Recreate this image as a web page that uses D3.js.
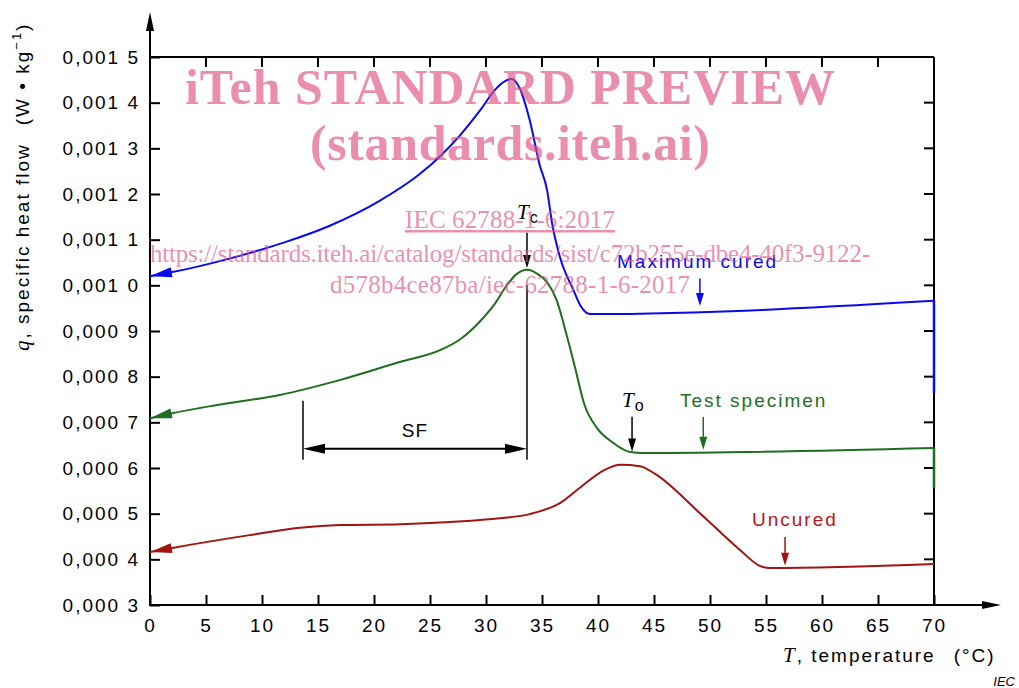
<!DOCTYPE html>
<html>
<head>
<meta charset="utf-8">
<script src="https://cdn.jsdelivr.net/npm/d3@7"></script>
<style>
body { margin: 0; background: #fff; }
</style>
</head>
<body>
<svg id="chart" width="1019" height="688" font-family="Arial, 'Liberation Sans', sans-serif"></svg>
<script>
// curves: T in °C, q in W/kg
const maxCuredT = [0, 2, 7, 12, 16, 20.5, 24, 26, 27.7, 29.5, 30.8, 31.7, 32.3, 33, 33.9, 34.8, 35.45, 35.9, 36.6, 37.8, 38.4, 39.3, 70];
const maxCuredQ = [10.20e-4, 10.29e-4, 10.58e-4, 10.94e-4, 11.30e-4, 11.85e-4, 12.42e-4, 12.85e-4, 13.29e-4, 13.84e-4, 14.28e-4, 14.47e-4, 14.52e-4, 14.32e-4, 13.62e-4, 12.63e-4, 12.09e-4, 11.36e-4, 10.62e-4, 9.90e-4, 9.57e-4, 9.37e-4, 9.66e-4];
const maxCuredDrop = [9.66e-4, 7.64e-4];

const specimenT = [0, 2, 6, 11.6, 17, 22.3, 25.9, 27.7, 29.5, 30.8, 31.8, 32.7, 33.7, 34.6, 35.45, 36.3, 37.2, 37.9, 38.8, 39.9, 41.25, 42.9, 44, 70];
const specimenQ = [7.09e-4, 7.20e-4, 7.38e-4, 7.60e-4, 7.93e-4, 8.32e-4, 8.58e-4, 8.82e-4, 9.22e-4, 9.60e-4, 9.98e-4, 10.24e-4, 10.34e-4, 10.25e-4, 10.07e-4, 9.68e-4, 8.91e-4, 8.25e-4, 7.38e-4, 6.88e-4, 6.57e-4, 6.35e-4, 6.33e-4, 6.44e-4];
const specimenDrop = [6.44e-4, 5.56e-4];

const uncuredT = [0, 2, 8.9, 13.4, 17, 22.3, 26.8, 31.25, 33.9, 36.6, 38.8, 40.6, 42, 43.75, 45.1, 49.1, 52.7, 54.5, 55.4, 70];
const uncuredQ = [4.16e-4, 4.25e-4, 4.53e-4, 4.69e-4, 4.75e-4, 4.77e-4, 4.82e-4, 4.90e-4, 4.99e-4, 5.23e-4, 5.65e-4, 5.96e-4, 6.07e-4, 6.04e-4, 5.87e-4, 5.01e-4, 4.20e-4, 3.85e-4, 3.81e-4, 3.90e-4];

const xTicks = [0, 5, 10, 15, 20, 25, 30, 35, 40, 45, 50, 55, 60, 65, 70];
const yTicks = [3e-4, 4e-4, 5e-4, 6e-4, 7e-4, 8e-4, 9e-4, 10e-4, 11e-4, 12e-4, 13e-4, 14e-4, 15e-4];

// annotation arrows: [T, q tail, q tip]
const tcArrow = [33.66, 11.15e-4, 10.38e-4];
const toArrow = [43.04, 7.12e-4, 6.36e-4];
const specimenArrow = [49.4, 7.12e-4, 6.40e-4];
const maxCuredArrow = [49.1, 10.15e-4, 9.55e-4];
const uncuredArrow = [56.7, 4.49e-4, 3.86e-4];
const tcLine = [10.01e-4, 6.18e-4];
const sfT = [13.66, 33.66];
const sfQ = 6.42e-4;
const sfTop = 7.47e-4;

const blue = "#0a0af0", green = "#1f6e1f", red = "#a01414";

const svg = d3.select("#chart");
const x = d3.scaleLinear().domain([0, 70]).range([150, 934]);
const y = d3.scaleLinear().domain([3e-4, 15e-4]).range([605, 57]);

const fmt = v => d3.format(".4f")(v).replace(".", ",").replace(/(\d)$/, " $1");

// frame: top and right with inward ticks
svg.append("line").attr("x1", x(0)).attr("x2", x(70)).attr("y1", y(15e-4)).attr("y2", y(15e-4))
    .attr("stroke", "#000").attr("stroke-width", 2);
svg.append("line").attr("x1", x(70)).attr("x2", x(70)).attr("y1", y(15e-4)).attr("y2", y(3e-4))
    .attr("stroke", "#000").attr("stroke-width", 2);
svg.selectAll(".ttick").data(xTicks).enter().append("line")
    .attr("x1", d => x(d)).attr("x2", d => x(d)).attr("y1", y(15e-4)).attr("y2", y(15e-4) + 10)
    .attr("stroke", "#000").attr("stroke-width", 2);
svg.selectAll(".rtick").data(yTicks).enter().append("line")
    .attr("x1", x(70) - 10).attr("x2", x(70)).attr("y1", d => y(d)).attr("y2", d => y(d))
    .attr("stroke", "#000").attr("stroke-width", 2);

// axes
const xAxis = svg.append("g")
    .attr("transform", "translate(0," + y(3e-4) + ")")
    .call(d3.axisBottom(x).tickValues(xTicks).tickSizeInner(-10).tickSizeOuter(0).tickPadding(14));
const yAxis = svg.append("g")
    .attr("transform", "translate(" + x(0) + ",0)")
    .call(d3.axisLeft(y).tickValues(yTicks).tickFormat(fmt).tickSizeInner(-10).tickSizeOuter(0).tickPadding(10));
[xAxis, yAxis].forEach(g => {
    g.select(".domain").remove();
    g.selectAll("line").attr("stroke-width", 2);
    g.attr("font-size", 19).attr("font-family", null);
    g.selectAll("text").attr("letter-spacing", 2).attr("fill", "#000");
});

// axis lines with arrows
svg.append("line").attr("x1", x(0)).attr("x2", x(0)).attr("y1", y(3e-4) + 1).attr("y2", 28)
    .attr("stroke", "#000").attr("stroke-width", 2);
svg.append("line").attr("x1", x(0) - 1).attr("x2", 985).attr("y1", y(3e-4)).attr("y2", y(3e-4))
    .attr("stroke", "#000").attr("stroke-width", 2);
svg.append("path").attr("d", `M${x(0)},12 L${x(0) - 4},31 L${x(0) + 4},31 Z`).attr("fill", "#000");
svg.append("path").attr("d", `M1001,${y(3e-4)} L982,${y(3e-4) - 4} L982,${y(3e-4) + 4} Z`).attr("fill", "#000");

// curves
const line = d3.line().x(d => x(d[0])).y(d => y(d[1])).curve(d3.curveMonotoneX);
const series = [
    {T: maxCuredT, Q: maxCuredQ, drop: maxCuredDrop, color: blue},
    {T: specimenT, Q: specimenQ, drop: specimenDrop, color: green},
    {T: uncuredT, Q: uncuredQ, drop: null, color: red}
];

function headPath(tx, ty, fx, fy, len, half) {
    const dx = fx - tx, dy = fy - ty, l = Math.hypot(dx, dy);
    const ux = dx / l, uy = dy / l;
    const bx = tx + ux * len, by = ty + uy * len;
    return `M${tx},${ty} L${bx - uy * half},${by + ux * half} L${bx + uy * half},${by - ux * half} Z`;
}

series.forEach(s => {
    const pts = s.T.map((t, i) => [t, s.Q[i]]);
    svg.append("path").attr("d", line(pts)).attr("fill", "none")
        .attr("stroke", s.color).attr("stroke-width", 2);
    if (s.drop) {
        svg.append("line").attr("x1", x(70)).attr("x2", x(70))
            .attr("y1", y(s.drop[0])).attr("y2", y(s.drop[1]))
            .attr("stroke", s.color).attr("stroke-width", 2.5);
    }
    svg.append("path")
        .attr("d", headPath(x(s.T[0]), y(s.Q[0]), x(s.T[1]), y(s.Q[1]), 22, 5))
        .attr("fill", s.color);
});

// down arrows
function downArrow(a, color) {
    const xx = x(a[0]), y1 = y(a[1]), y2 = y(a[2]);
    svg.append("line").attr("x1", xx).attr("x2", xx).attr("y1", y1).attr("y2", y2 - 8)
        .attr("stroke", color).attr("stroke-width", 1.5);
    svg.append("path").attr("d", headPath(xx, y2, xx, y1, 13, 4)).attr("fill", color);
}
downArrow(tcArrow, "#000");
downArrow(toArrow, "#000");
downArrow(specimenArrow, green);
downArrow(maxCuredArrow, blue);
downArrow(uncuredArrow, red);

// SF bracket
svg.append("line").attr("x1", x(sfT[0])).attr("x2", x(sfT[0])).attr("y1", y(sfTop)).attr("y2", y(tcLine[1]))
    .attr("stroke", "#000").attr("stroke-width", 1.5);
svg.append("line").attr("x1", x(sfT[1])).attr("x2", x(sfT[1])).attr("y1", y(tcLine[0])).attr("y2", y(tcLine[1]))
    .attr("stroke", "#000").attr("stroke-width", 1.5);
svg.append("line").attr("x1", x(sfT[0]) + 15).attr("x2", x(sfT[1]) - 15).attr("y1", y(sfQ)).attr("y2", y(sfQ))
    .attr("stroke", "#000").attr("stroke-width", 2);
svg.append("path").attr("d", headPath(x(sfT[0]), y(sfQ), x(sfT[1]), y(sfQ), 22, 5)).attr("fill", "#000");
svg.append("path").attr("d", headPath(x(sfT[1]), y(sfQ), x(sfT[0]), y(sfQ), 22, 5)).attr("fill", "#000");
svg.append("text").attr("x", (x(sfT[0]) + x(sfT[1])) / 2).attr("y", y(sfQ) - 12)
    .attr("text-anchor", "middle").attr("font-size", 19).attr("letter-spacing", 1).text("SF");

// labels
function label(txt, xx, yy, color) {
    svg.append("text").attr("x", xx).attr("y", yy).attr("font-size", 19)
        .attr("letter-spacing", 2).attr("fill", color).text(txt);
}
label("Maximum cured", 617, 268, blue);
label("Test specimen", 680, 407, green);
label("Uncured", 752, 526, "#b8141c");

function symbol(sub, xx, yy) {
    const t = svg.append("text").attr("x", xx).attr("y", yy);
    t.append("tspan").attr("font-family", "'Liberation Serif', 'Times New Roman', serif")
        .attr("font-style", "italic").attr("font-size", 21).text("T");
    t.append("tspan").attr("font-size", 16).attr("dx", 1).attr("dy", 4).text(sub);
}
symbol("c", 517, 219);
symbol("o", 622, 407);

// axis titles
const yt = svg.append("text").attr("transform", "translate(29,351) rotate(-90)")
    .attr("font-size", 19).attr("letter-spacing", 2);
yt.append("tspan").attr("font-family", "'Liberation Serif', serif").attr("font-style", "italic")
    .attr("font-size", 21).text("q");
yt.append("tspan").text(", specific heat flow");
yt.append("tspan").attr("dx", 18).text("(W • kg");
yt.append("tspan").attr("font-size", 13).attr("dy", -8).text("−1");
yt.append("tspan").attr("dy", 8).text(")");

const xt = svg.append("text").attr("x", 783).attr("y", 662).attr("font-size", 19).attr("letter-spacing", 2);
xt.append("tspan").attr("font-family", "'Liberation Serif', serif").attr("font-style", "italic")
    .attr("font-size", 21).text("T");
xt.append("tspan").text(", temperature");
xt.append("tspan").attr("dx", 18).text("(°C)");

svg.append("text").attr("x", 1015).attr("y", 686).attr("text-anchor", "end")
    .attr("font-size", 13).attr("font-style", "italic").text("IEC");

// watermark
const wm = svg.append("g").attr("fill", "#e0507f").attr("fill-opacity", 0.65)
    .attr("font-family", "'Liberation Serif', 'Times New Roman', serif").attr("text-anchor", "middle");
wm.append("text").attr("x", 510).attr("y", 104).attr("font-size", 50).attr("font-weight", "bold")
    .attr("textLength", 650).text("iTeh STANDARD PREVIEW");
wm.append("text").attr("x", 510).attr("y", 160).attr("font-size", 50).attr("font-weight", "bold")
    .attr("textLength", 400).text("(standards.iteh.ai)");
wm.append("text").attr("x", 510).attr("y", 228).attr("font-size", 25)
    .attr("text-decoration", "underline").attr("textLength", 210).text("IEC 62788-1-6:2017");
wm.append("text").attr("x", 510).attr("y", 262).attr("font-size", 25)
    .attr("textLength", 720).text("https://standards.iteh.ai/catalog/standards/sist/c72b255e-dbe4-40f3-9122-");
wm.append("text").attr("x", 510).attr("y", 293).attr("font-size", 25)
    .attr("textLength", 360).text("d578b4ce87ba/iec-62788-1-6-2017");
</script>
</body>
</html>
